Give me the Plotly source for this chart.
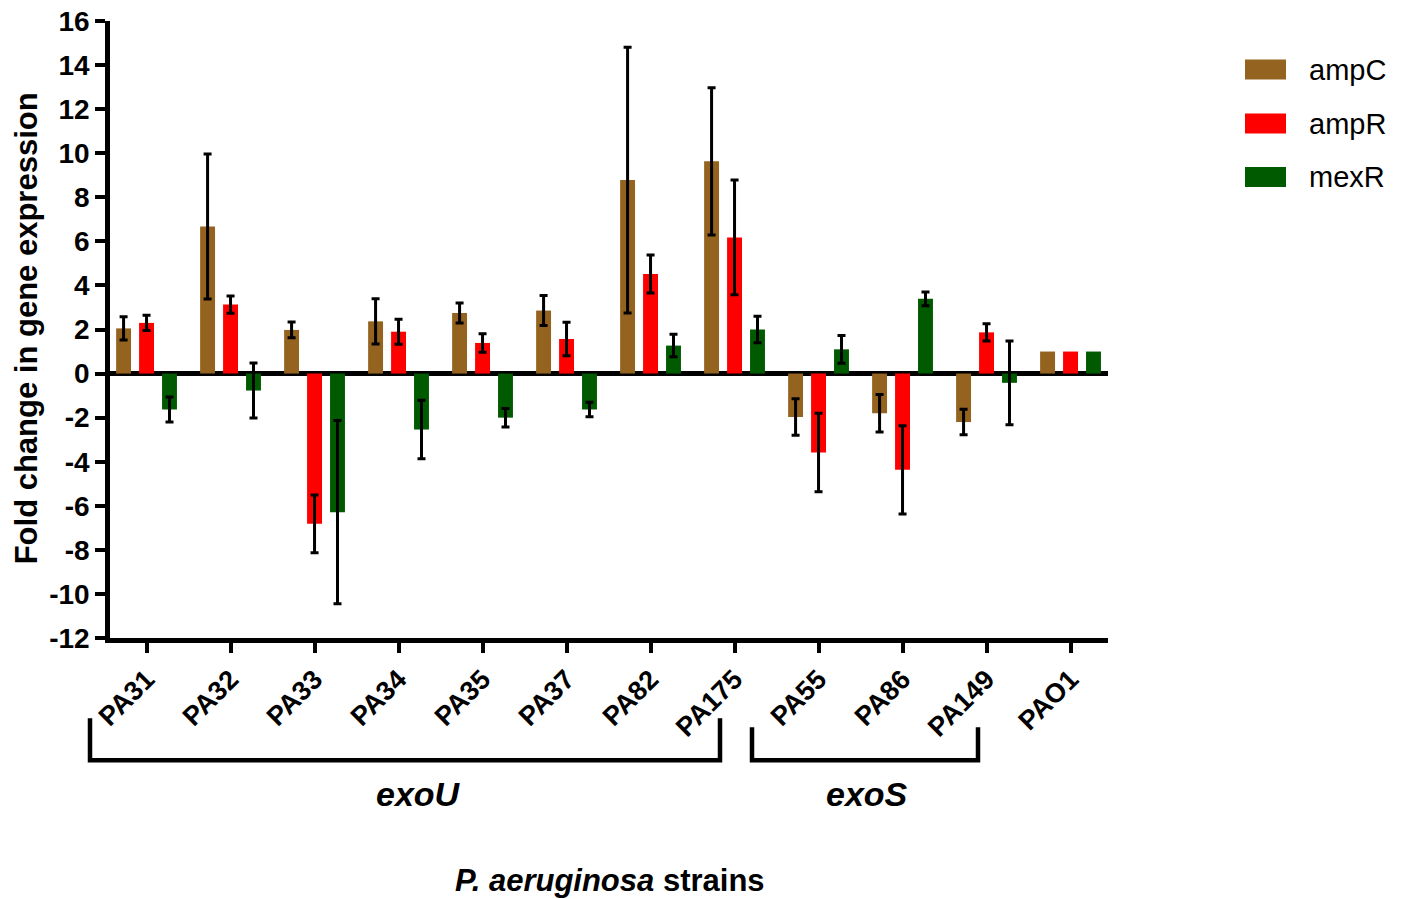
import plotly.graph_objects as go

strains = ["PA31", "PA32", "PA33", "PA34", "PA35", "PA37", "PA82", "PA175",
           "PA55", "PA86", "PA149", "PAO1"]
genes = ["ampC", "ampR", "mexR"]

ampC = [2.05, 6.67, 1.98, 2.37, 2.75, 2.86, 8.78, 9.63, -1.97, -1.80, -2.20, 1.0]
ampC_err = [0.53, 3.29, 0.36, 1.03, 0.45, 0.68, 6.03, 3.34, 0.83, 0.85, 0.58, None]
ampR = [2.30, 3.13, -6.82, 1.90, 1.39, 1.57, 4.52, 6.18, -3.58, -4.37, 1.87, 1.0]
ampR_err = [0.35, 0.39, 1.31, 0.57, 0.42, 0.76, 0.86, 2.60, 1.78, 2.00, 0.39, None]
mexR = [-1.63, -0.77, -6.29, -2.54, -2.00, -1.63, 1.27, 2.00, 1.10, 3.39, -0.42, 1.0]
mexR_err = [0.57, 1.25, 4.16, 1.33, 0.42, 0.33, 0.51, 0.60, 0.63, 0.31, 1.90, None]

y_tickvals = [-12, -10, -8, -6, -4, -2, 0, 2, 4, 6, 8, 10, 12, 14, 16]
y_ticktext = ["-12", "-10", "-8", "-6", "-4", "-2", "0", "2", "4", "6", "8",
              "10", "12", "14", "16"]

colors = {"ampC": "#94631F", "ampR": "#FF0000", "mexR": "#005A00"}
values = {"ampC": (ampC, ampC_err), "ampR": (ampR, ampR_err), "mexR": (mexR, mexR_err)}

FONT = "Liberation Sans, Arial, sans-serif"
W_FIG, H_FIG = 1405, 899
PLOT_L, PLOT_R, PLOT_T, PLOT_B = 110, 1108, 20.5, 637.8  # target page pixels
ML = PLOT_L
MT = PLOT_T
MR = W_FIG - PLOT_R
MB = H_FIG - PLOT_B
PW = PLOT_R - PLOT_L
PH = PLOT_B - PLOT_T


def px(x):
    return (x - PLOT_L) / PW


def py(y):
    return (PLOT_B - y) / PH


def strip_missing(errs):
    # plotly turns null into 0 (drawing a flat cap); trailing missing
    # entries are left out so that no error bar is drawn for them
    out = list(errs)
    while out and out[-1] is None:
        out.pop()
    return out


fig = go.Figure()
for g in genes:
    v, e = values[g]
    fig.add_trace(go.Bar(
        x=strains, y=v, name=g,
        marker=dict(color=colors[g], line=dict(width=0)),
        error_y=dict(type="data", array=strip_missing(e), visible=True, color="black",
                     thickness=3, width=4),
        showlegend=False,
    ))

shapes = []
annotations = []

# custom legend
leg_rows = [(59, "ampC"), (113, "ampR"), (166.5, "mexR")]
for top, g in leg_rows:
    shapes.append(dict(type="rect", xref="paper", yref="paper",
                       x0=px(1245), x1=px(1286), y0=py(top), y1=py(top + 20),
                       fillcolor=colors[g], line=dict(width=0)))
    annotations.append(dict(xref="paper", yref="paper", x=px(1307), y=py(top + 10.5),
                            text=g, showarrow=False, xanchor="left", yanchor="middle",
                            font=dict(family=FONT, size=29, color="black")))

# brackets
br = dict(color="black", width=4.5)
shapes.append(dict(type="path", xref="paper", yref="paper",
                   path=f"M {px(90)},{py(718)} L {px(90)},{py(760)} L {px(720)},{py(760)} L {px(720)},{py(718)}",
                   line=br))
shapes.append(dict(type="path", xref="paper", yref="paper",
                   path=f"M {px(752)},{py(727)} L {px(752)},{py(760)} L {px(978)},{py(760)} L {px(978)},{py(727)}",
                   line=br))
annotations.append(dict(xref="paper", yref="paper", x=px(418), y=py(794),
                        text="<b><i>exoU</i></b>", showarrow=False,
                        xanchor="center", yanchor="middle",
                        font=dict(family=FONT, size=34, color="black")))
annotations.append(dict(xref="paper", yref="paper", x=px(867), y=py(794),
                        text="<b><i>exoS</i></b>", showarrow=False,
                        xanchor="center", yanchor="middle",
                        font=dict(family=FONT, size=34, color="black")))
annotations.append(dict(xref="paper", yref="paper", x=px(610), y=py(880),
                        text="<b><i>P. aeruginosa</i> strains</b>", showarrow=False,
                        xanchor="center", yanchor="middle",
                        font=dict(family=FONT, size=31, color="black")))
annotations.append(dict(xref="paper", yref="paper", x=px(26), y=py(328),
                        text="<b>Fold change in gene expression</b>", showarrow=False,
                        textangle=-90, xanchor="center", yanchor="middle",
                        font=dict(family=FONT, size=31, color="black")))

fig.update_layout(
    width=W_FIG, height=H_FIG,
    margin=dict(l=ML, r=MR, t=MT, b=MB, pad=0, autoexpand=False),
    paper_bgcolor="white", plot_bgcolor="white",
    barmode="group", bargap=0.18, bargroupgap=0.35,
    font=dict(family=FONT, color="black"),
    shapes=shapes, annotations=annotations,
    showlegend=False,
)
fig.update_xaxes(
    type="category", categoryorder="array", categoryarray=strains,
    range=[-0.435, 11.446], automargin=False, ticklabeloverflow="allow",
    showline=True, linecolor="black", linewidth=4.5,
    ticks="outside", ticklen=10, tickwidth=3.5, tickcolor="black",
    tickangle=-45, tickfont=dict(family=FONT, size=27, color="black", weight="bold"),
    showgrid=False, zeroline=False,
)
fig.update_yaxes(
    range=[-12, 16], automargin=False, ticklabeloverflow="allow",
    tickmode="array", tickvals=y_tickvals, ticktext=y_ticktext,
    showline=True, linecolor="black", linewidth=4.5,
    ticks="outside", ticklen=10, tickwidth=3.5, tickcolor="black",
    tickfont=dict(family=FONT, size=28, color="black", weight="bold"),
    showgrid=False, zeroline=True, zerolinecolor="black", zerolinewidth=5,
)

fig.write_html("out.html",
               config={"displayModeBar": False},
               post_script="document.body.style.margin='0';document.body.style.overflow='hidden';")
